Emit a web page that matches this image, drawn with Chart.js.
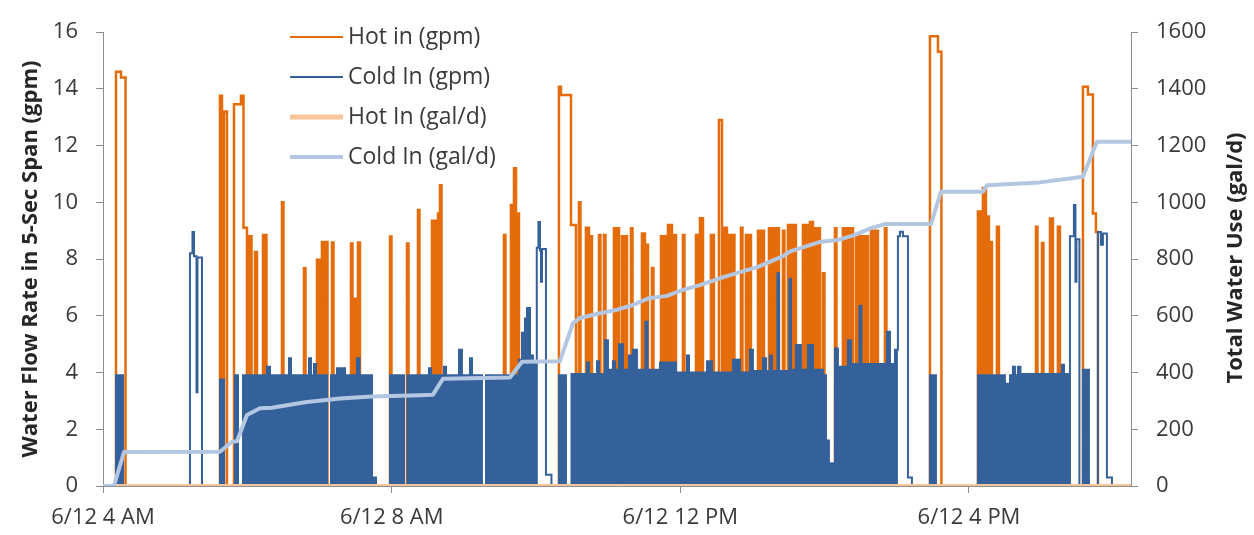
<!DOCTYPE html>
<html>
<head>
<meta charset="utf-8">
<script src="https://cdn.jsdelivr.net/npm/chart.js@4.4.0/dist/chart.umd.min.js"></script>
<style>
  html, body { margin: 0; padding: 0; background: #fff; }
  #wrap { width: 1254px; height: 535px; }
</style>
</head>
<body>
<div id="wrap"><canvas id="flow" width="1254" height="535"></canvas></div>
<script>
// Times are clock hours on 6/12 (10.5 = 10:30 AM). Each event is [start, end, gpm].

// hot water draws, tall narrow peaks (drawn as outlines)
var hotInPeaks = [
    [4.180, 4.249, 14.6], [4.249, 4.312, 14.4],
    [5.621, 5.649, 13.75],
    [5.677, 5.718, 13.2],
    [5.815, 5.912, 13.45], [5.912, 5.947, 13.75], [5.947, 5.995, 9.1],
    [10.318, 10.346, 14.07], [10.346, 10.485, 13.78], [10.485, 10.554, 9.2],
    [12.535, 12.577, 12.9],
    [15.459, 15.570, 15.85], [15.570, 15.618, 15.3],
    [17.579, 17.648, 14.07], [17.648, 17.717, 13.8], [17.717, 17.759, 9.6], [17.759, 17.787, 8.95]
];

// hot water draws, dense bands around 9 gpm (drawn filled)
var hotInBands = [
    [6.009, 6.058, 8.8],
    [6.106, 6.134, 8.25],
    [6.217, 6.265, 8.85],
    [6.480, 6.501, 10.0],
    [6.785, 6.806, 7.67],
    [6.965, 7.007, 7.97],
    [7.034, 7.062, 8.6],
    [7.076, 7.111, 8.6],
    [7.173, 7.194, 8.58],
    [7.436, 7.457, 8.55],
    [7.492, 7.513, 6.6],
    [7.533, 7.561, 8.58],
    [7.977, 7.997, 8.79],
    [8.212, 8.233, 8.55],
    [8.365, 8.385, 9.73],
    [8.559, 8.642, 9.35], [8.642, 8.669, 9.6], [8.669, 8.690, 10.6],
    [9.556, 9.577, 8.85],
    [9.653, 9.695, 9.9], [9.695, 9.723, 11.2], [9.723, 9.764, 9.6],
    [10.595, 10.616, 10.0],
    [10.692, 10.734, 9.1],
    [10.748, 10.776, 8.8],
    [10.873, 10.893, 8.85],
    [10.942, 10.963, 8.85],
    [11.080, 11.150, 9.08],
    [11.191, 11.261, 8.8],
    [11.316, 11.337, 9.08],
    [11.468, 11.510, 8.9], [11.510, 11.552, 8.5],
    [11.607, 11.628, 7.68],
    [11.732, 11.801, 8.8],
    [11.829, 11.884, 9.2], [11.884, 11.940, 8.85],
    [12.036, 12.057, 8.85],
    [12.217, 12.272, 8.85], [12.272, 12.314, 9.44],
    [12.424, 12.466, 8.85],
    [12.605, 12.646, 9.1],
    [12.674, 12.695, 8.85],
    [12.729, 12.750, 8.85],
    [12.840, 12.861, 9.1],
    [12.909, 12.979, 8.85],
    [13.076, 13.159, 9.0],
    [13.228, 13.367, 9.08],
    [13.422, 13.443, 9.0],
    [13.491, 13.602, 9.2],
    [13.699, 13.768, 9.2],
    [13.796, 13.838, 9.3],
    [13.865, 13.935, 9.08],
    [13.976, 13.997, 7.5],
    [14.143, 14.163, 9.08],
    [14.253, 14.392, 9.08],
    [14.434, 14.489, 8.85],
    [14.503, 14.600, 8.8],
    [14.641, 14.738, 9.0],
    [14.835, 14.856, 9.08],
    [16.124, 16.159, 9.67],
    [16.193, 16.235, 10.5], [16.235, 16.276, 9.5], [16.276, 16.318, 8.6],
    [16.387, 16.415, 9.14],
    [16.928, 16.949, 9.14],
    [17.011, 17.032, 8.56],
    [17.122, 17.163, 9.43],
    [17.232, 17.260, 9.14]
];

// cold water, steady ~4 gpm stretches (drawn filled)
var coldInBlocks = [
    [4.180, 4.277, 3.9],
    [5.621, 5.677, 3.75],
    [5.829, 5.871, 3.9],
    [5.940, 6.272, 3.9], [6.272, 6.314, 4.2], [6.314, 6.397, 3.9],
    [6.418, 6.577, 3.9], [6.577, 6.605, 4.5], [6.605, 6.854, 3.9], [6.854, 6.882, 4.5],
    [6.882, 6.924, 3.9], [6.924, 6.951, 4.3], [6.951, 7.104, 3.9],
    [7.159, 7.242, 3.9], [7.242, 7.353, 4.15], [7.353, 7.519, 3.9], [7.519, 7.554, 4.5],
    [7.554, 7.727, 3.9], [7.727, 7.783, 0.3],
    [7.977, 8.171, 3.9],
    [8.219, 8.517, 3.9], [8.517, 8.545, 4.15], [8.545, 8.725, 3.9], [8.725, 8.753, 4.2],
    [8.753, 8.933, 3.9], [8.933, 8.974, 4.8], [8.974, 9.085, 3.9], [9.085, 9.113, 4.5],
    [9.113, 9.251, 3.9],
    [9.307, 9.764, 3.9], [9.764, 9.806, 4.45], [9.806, 9.847, 5.4], [9.847, 9.875, 5.9],
    [9.875, 9.917, 6.27], [9.917, 9.958, 4.6], [9.958, 10.007, 4.4],
    [10.318, 10.415, 3.9],
    [10.492, 10.706, 3.95], [10.706, 10.734, 4.35], [10.734, 10.845, 3.95], [10.845, 10.873, 4.4],
    [10.873, 10.956, 3.95], [10.956, 10.997, 5.14], [10.997, 11.066, 4.1], [11.066, 11.094, 4.4],
    [11.094, 11.150, 4.1], [11.150, 11.205, 5.0], [11.205, 11.288, 4.1], [11.288, 11.316, 4.6],
    [11.316, 11.344, 4.1], [11.344, 11.399, 4.8], [11.399, 11.517, 4.1], [11.517, 11.545, 5.79],
    [11.545, 11.718, 4.1], [11.718, 11.940, 4.35], [11.940, 12.092, 4.0], [12.092, 12.120, 4.6],
    [12.120, 12.369, 4.0], [12.369, 12.438, 4.4], [12.438, 12.729, 4.0], [12.729, 12.826, 4.45],
    [12.826, 12.965, 4.0], [12.965, 13.006, 4.8], [13.006, 13.145, 4.05], [13.145, 13.187, 4.5],
    [13.187, 13.242, 4.05], [13.242, 13.270, 4.6], [13.270, 13.346, 4.05], [13.346, 13.367, 7.5],
    [13.367, 13.512, 4.05], [13.512, 13.533, 7.3], [13.533, 13.602, 4.1], [13.602, 13.671, 4.97],
    [13.671, 13.768, 4.1], [13.768, 13.838, 4.97], [13.838, 13.976, 4.1], [13.976, 14.018, 3.9],
    [14.018, 14.059, 1.6], [14.059, 14.115, 0.8],
    [14.143, 14.184, 4.85], [14.184, 14.323, 4.2], [14.323, 14.364, 5.14], [14.364, 14.482, 4.3],
    [14.482, 14.510, 6.35], [14.510, 14.863, 4.3], [14.863, 14.905, 5.44], [14.905, 14.974, 4.3],
    [14.974, 15.015, 4.8],
    [15.459, 15.542, 3.9],
    [16.124, 16.180, 3.9],
    [16.200, 16.498, 3.9], [16.498, 16.568, 3.6], [16.568, 16.609, 3.9], [16.609, 16.637, 4.2],
    [16.637, 16.678, 3.9], [16.678, 16.713, 4.2], [16.713, 17.288, 3.95], [17.288, 17.316, 4.27],
    [17.316, 17.371, 3.95],
    [17.579, 17.662, 4.1]
];

// cold water, short ~9 gpm draws (drawn as outlines)
var coldInPeaks = [
    [5.205, 5.240, 8.2], [5.240, 5.261, 8.95], [5.261, 5.296, 8.1], [5.296, 5.309, 3.3], [5.309, 5.372, 8.05],
    [10.013, 10.034, 8.4], [10.034, 10.055, 9.3], [10.055, 10.069, 8.3], [10.069, 10.083, 7.2],
    [10.083, 10.138, 8.35], [10.138, 10.214, 0.4],
    [15.015, 15.043, 8.8], [15.043, 15.085, 8.96], [15.085, 15.154, 8.8], [15.154, 15.209, 0.3],
    [17.399, 17.454, 8.8], [17.454, 17.475, 9.9], [17.475, 17.489, 7.2], [17.489, 17.530, 8.7],
    [17.787, 17.828, 8.95], [17.828, 17.856, 8.5], [17.856, 17.911, 8.9], [17.911, 17.981, 0.3]
];

// running daily totals (gal/d)
var coldTotalTimes = [4.000, 4.152, 4.291, 5.621, 5.787, 5.857, 5.995, 6.175, 6.342, 6.799, 7.284,
    7.727, 8.392, 8.572, 8.711, 9.639, 9.806, 10.332, 10.512, 10.609, 10.886, 11.108, 11.344,
    11.565, 11.815, 12.036, 12.272, 12.619, 13.076, 13.422, 13.533, 13.948, 14.184, 14.420,
    14.641, 14.835, 15.473, 15.611, 16.193, 16.249, 16.983, 17.579, 17.773, 18.245];
var coldTotalGal = [0, 0, 120, 121, 156, 158, 250, 274, 276, 295, 308,
    315, 320, 322, 378, 382, 438, 440, 574, 592, 609, 620, 638,
    662, 670, 691, 708, 738, 772, 810, 828, 861, 867, 885,
    909, 923, 923, 1037, 1037, 1060, 1070, 1090, 1213, 1213];
var hotTotalTimes = [4.000, 18.245];
var hotTotalGal = [0, 0];

var timeTicks = [4, 8, 12, 16];
var timeLabels = ['6/12 4 AM', '6/12 8 AM', '6/12 12 PM', '6/12 4 PM'];
var flowTicks = [0, 2, 4, 6, 8, 10, 12, 14, 16];
var totalTicks = [0, 200, 400, 600, 800, 1000, 1200, 1400, 1600];

var HOT = '#E46C0A';
var COLD = '#34619A';
var HOT_TOTAL = '#F9C59A';
var COLD_TOTAL = '#B3C7E3';
var AXIS = '#8C8C8C';
var TEXT = '#3A3A3A';
var FONT = '"Open Sans", "Liberation Sans", sans-serif';

// turn [start, end, value] events into a step trace; back-to-back events change level without touching 0
function toSteps(events) {
    var sorted = events.slice().sort(function (a, b) { return a[0] - b[0]; });
    var pts = [];
    var lastEnd = null;
    sorted.forEach(function (e) {
        if (lastEnd !== null && Math.abs(e[0] - lastEnd) < 1e-6) {
            pts.pop();
            pts.push({ x: e[0], y: e[2] });
        } else {
            pts.push({ x: e[0], y: 0 });
            pts.push({ x: e[0], y: e[2] });
        }
        pts.push({ x: e[1], y: e[2] });
        pts.push({ x: e[1], y: 0 });
        lastEnd = e[1];
    });
    return pts;
}

function zip(xs, ys) {
    return xs.map(function (x, i) { return { x: x, y: ys[i] }; });
}

function fixedTicks(values) {
    return function (scale) {
        scale.ticks = values.map(function (v) { return { value: v }; });
    };
}

// legend inside the plot + both axis titles reading bottom-to-top
var overlay = {
    id: 'overlay',
    afterDraw: function (chart) {
        var ctx = chart.ctx;
        ctx.save();
        ctx.textBaseline = 'middle';
        chart.data.datasets.forEach(function (ds) {
            if (ds.legendRow === undefined) return;
            var y = 37 + ds.legendRow * 40;
            ctx.strokeStyle = ds.borderColor;
            ctx.lineWidth = ds.legendWidth || ds.borderWidth;
            ctx.beginPath();
            ctx.moveTo(290, y);
            ctx.lineTo(343, y);
            ctx.stroke();
            ctx.fillStyle = TEXT;
            ctx.font = '23px ' + FONT;
            ctx.textAlign = 'left';
            ctx.fillText(ds.label, 348, y);
        });

        ctx.fillStyle = '#262626';
        ctx.font = 'bold 22px ' + FONT;
        ctx.textAlign = 'center';

        ctx.save();
        ctx.translate(31, 259);
        ctx.rotate(-Math.PI / 2);
        ctx.fillText('Water Flow Rate in 5-Sec Span (gpm)', 0, 0);
        ctx.restore();

        ctx.save();
        ctx.translate(1236, 258);
        ctx.rotate(-Math.PI / 2);
        ctx.fillText('Total Water Use (gal/d)', 0, 0);
        ctx.restore();

        ctx.restore();
    }
};

var tickFont = { family: FONT, size: 22 };

var ctx = document.getElementById('flow').getContext('2d');
var chart = new Chart(ctx, {
    type: 'line',
    data: {
        datasets: [
            {
                label: 'Hot in (gpm)',
                data: toSteps(hotInPeaks.concat(hotInBands)),
                borderColor: HOT,
                borderWidth: 2.5,
                legendWidth: 2,
                fill: false,
                yAxisID: 'y',
                order: 4,
                legendRow: 0
            },
            {
                // solid body of the dense hot bands
                label: 'hot bands',
                data: toSteps(hotInBands),
                borderColor: HOT,
                backgroundColor: HOT,
                borderWidth: 0,
                fill: 'origin',
                yAxisID: 'y',
                order: 5
            },
            {
                label: 'Cold In (gpm)',
                data: toSteps(coldInBlocks.concat(coldInPeaks)),
                borderColor: COLD,
                borderWidth: 2,
                fill: false,
                yAxisID: 'y',
                order: 2,
                legendRow: 1
            },
            {
                // solid body of the steady cold stretches
                label: 'cold blocks',
                data: toSteps(coldInBlocks),
                borderColor: COLD,
                backgroundColor: COLD,
                borderWidth: 0,
                fill: 'origin',
                yAxisID: 'y',
                order: 3
            },
            {
                label: 'Hot In (gal/d)',
                data: zip(hotTotalTimes, hotTotalGal),
                borderColor: HOT_TOTAL,
                borderWidth: 4,
                legendWidth: 5,
                fill: false,
                yAxisID: 'y1',
                order: 1,
                legendRow: 2
            },
            {
                label: 'Cold In (gal/d)',
                data: zip(coldTotalTimes, coldTotalGal),
                borderColor: COLD_TOTAL,
                borderWidth: 4,
                borderJoinStyle: 'round',
                borderCapStyle: 'round',
                fill: false,
                yAxisID: 'y1',
                order: 0,
                legendRow: 3
            }
        ]
    },
    options: {
        responsive: false,
        animation: false,
        layout: { padding: { top: 32, left: 0, right: 0, bottom: 0 } },
        elements: {
            point: { radius: 0, hoverRadius: 0 },
            line: { tension: 0 }
        },
        plugins: {
            legend: { display: false },
            tooltip: { enabled: false }
        },
        scales: {
            x: {
                type: 'linear',
                min: 4,
                max: 18.245,
                afterBuildTicks: fixedTicks(timeTicks),
                afterFit: function (s) { s.height = 49; },
                ticks: {
                    font: tickFont,
                    color: TEXT,
                    padding: 12,
                    maxRotation: 0,
                    autoSkip: false,
                    callback: function (v) { return timeLabels[timeTicks.indexOf(v)]; }
                },
                grid: { drawOnChartArea: false, tickLength: 7, color: AXIS },
                border: { color: AXIS }
            },
            y: {
                position: 'left',
                min: 0,
                max: 16,
                afterBuildTicks: fixedTicks(flowTicks),
                afterFit: function (s) { s.width = 103; },
                ticks: { font: tickFont, color: TEXT, padding: 18 },
                grid: { drawOnChartArea: false, tickLength: 7, color: AXIS },
                border: { color: AXIS }
            },
            y1: {
                position: 'right',
                min: 0,
                max: 1600,
                afterBuildTicks: fixedTicks(totalTicks),
                afterFit: function (s) { s.width = 123; },
                ticks: {
                    font: tickFont,
                    color: TEXT,
                    padding: 18,
                    callback: function (v) { return String(v); }
                },
                grid: { drawOnChartArea: false, tickLength: 7, color: AXIS },
                border: { color: AXIS }
            }
        }
    },
    plugins: [overlay]
});
</script>
</body>
</html>
